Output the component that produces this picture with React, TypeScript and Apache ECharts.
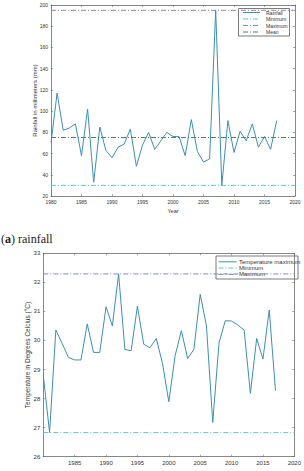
import React, { useEffect, useRef } from "react";
import * as echarts from "echarts";

// Observation years shared by both panels
const years = [
  1980, 1981, 1982, 1983, 1984, 1985, 1986, 1987, 1988, 1989,
  1990, 1991, 1992, 1993, 1994, 1995, 1996, 1997, 1998, 1999,
  2000, 2001, 2002, 2003, 2004, 2005, 2006, 2007, 2008, 2009,
  2010, 2011, 2012, 2013, 2014, 2015, 2016, 2017,
];

// Annual rainfall (mm)
const rainfall = [
  70, 117, 82, 84, 88, 58, 102, 33, 85, 63,
  56, 66, 69, 83, 48, 68, 80, 64, 72, 80,
  76, 76, 58, 92, 62, 52, 55, 195, 30, 91,
  61, 81, 72, 88, 66, 76, 64, 91,
];
const rainfallMinimum = 30;
const rainfallMaximum = 195;
const rainfallMean = 75.1;

// Annual maximum temperature (°C)
const temperatureMaximum = [
  28.8, 26.83, 30.36, 29.9, 29.42, 29.33, 29.33, 30.57, 29.59, 29.59,
  31.16, 30.5, 32.29, 29.69, 29.65, 31.18, 29.87, 29.75, 30.07, 29.21,
  27.89, 29.47, 30.34, 29.38, 29.69, 31.59, 30.5, 27.18, 29.92, 30.68,
  30.67, 30.53, 30.36, 28.18, 30.07, 29.36, 31.05, 28.27,
];
const temperatureMinimumLine = 26.83;
const temperatureMaximumLine = 32.29;

// Axis ranges
const yearRange = [1980, 2020];
const yearStep = 5;
const rainfallRange = [20, 200];
const rainfallStep = 20;
const temperatureRange = [26, 33];
const temperatureStep = 1;

// Legend entries
const rainfallLegend = ["Rainfall", "Minimum", "Maximum", "Mean"];
const temperatureLegend = ["Temperature maximum", "Minimum", "Maximum"];

const FONT = "Liberation Sans";
const AXIS = "#6a6a6a";
const TEXT = "#333";
const C_LINE = "#3d8fb3";
const C_MIN = "#5cc9d2";
const C_MAX = "#8585c9";
const C_MEAN = "#557866";
const DASH_DOT = [5, 2, 1, 2];

const LEGEND_STYLE: Record<string, { color: string; dash: boolean }> = {
  Rainfall: { color: C_LINE, dash: false },
  "Temperature maximum": { color: C_LINE, dash: false },
  Minimum: { color: C_MIN, dash: true },
  Maximum: { color: C_MAX, dash: true },
  Mean: { color: C_MEAN, dash: true },
};

const pairs = (xs: number[], ys: number[]) => xs.map((x, i) => [x, ys[i]]);
const flat = (v: number) => [
  [yearRange[0], v],
  [yearRange[1], v],
];
const plainYear = (v: number) => String(v);

const tickStyle = { show: true, inside: true, length: 2, lineStyle: { color: AXIS, width: 0.6 } };
const lineStyleAxis = { show: true, lineStyle: { color: AXIS, width: 0.8 } };

function mainX(gridIndex: number, fontSize: number, extra: any = {}, showMin = true) {
  return {
    type: "value",
    gridIndex,
    min: yearRange[0],
    max: yearRange[1],
    interval: yearStep,
    axisLine: lineStyleAxis,
    axisTick: tickStyle,
    axisLabel: { color: TEXT, fontSize, fontFamily: FONT, margin: 3, formatter: plainYear, showMinLabel: showMin },
    splitLine: { show: false },
    ...extra,
  };
}

function mirrorX(gridIndex: number) {
  return {
    type: "value",
    gridIndex,
    position: "top",
    min: yearRange[0],
    max: yearRange[1],
    interval: yearStep,
    axisLine: lineStyleAxis,
    axisTick: tickStyle,
    axisLabel: { show: false },
    splitLine: { show: false },
  };
}

function mainY(gridIndex: number, range: number[], step: number, fontSize: number, extra: any = {}) {
  return {
    type: "value",
    gridIndex,
    min: range[0],
    max: range[1],
    interval: step,
    axisLine: lineStyleAxis,
    axisTick: tickStyle,
    axisLabel: { color: TEXT, fontSize, fontFamily: FONT, margin: 3 },
    splitLine: { show: false },
    ...extra,
  };
}

function mirrorY(gridIndex: number, range: number[], step: number) {
  return {
    type: "value",
    gridIndex,
    position: "right",
    min: range[0],
    max: range[1],
    interval: step,
    axisLine: lineStyleAxis,
    axisTick: tickStyle,
    axisLabel: { show: false },
    splitLine: { show: false },
  };
}

function lineSeries(name: string, data: any[], axisIndex: number, z = 2) {
  const s = LEGEND_STYLE[name];
  return {
    type: "line",
    name,
    data,
    xAxisIndex: axisIndex,
    yAxisIndex: axisIndex,
    symbol: "none",
    z,
    lineStyle: { color: s.color, width: 1, type: s.dash ? DASH_DOT : "solid" },
    itemStyle: { color: s.color },
  };
}

// Boxed legend: sample line followed by its label, one entry per row
function legendBox(
  names: string[],
  box: { x: number; y: number; w: number; h: number },
  firstRow: number,
  rowStep: number,
  sample: [number, number],
  textX: number,
  fontSize: number
) {
  const children: any[] = [
    {
      type: "rect",
      shape: { x: box.x, y: box.y, width: box.w, height: box.h },
      style: { fill: "#ffffff", stroke: "#444", lineWidth: 0.7 },
    },
  ];
  names.forEach((name, i) => {
    const y = firstRow + i * rowStep;
    const s = LEGEND_STYLE[name];
    children.push({
      type: "line",
      shape: { x1: sample[0], y1: y, x2: sample[1], y2: y },
      style: { stroke: s.color, lineWidth: 1, lineDash: s.dash ? DASH_DOT : null },
    });
    children.push({
      type: "text",
      x: textX,
      y,
      style: {
        text: name,
        fill: TEXT,
        font: `${fontSize}px '${FONT}'`,
        verticalAlign: "middle",
        align: "left",
      },
    });
  });
  return { type: "group", z: 100, children };
}

export default function App() {
  const ref = useRef<HTMLDivElement>(null);

  useEffect(() => {
    if (!ref.current) return;
    const chart = echarts.init(ref.current, null, { renderer: "svg" });

    const option: any = {
      animation: false,
      backgroundColor: "#ffffff",
      textStyle: { fontFamily: FONT },
      grid: [
        { left: 51, top: 5, width: 244, height: 191 },
        { left: 43.3, top: 253.3, width: 257, height: 203.4 },
      ],
      xAxis: [
        mainX(0, 5, {
          name: "Year",
          nameLocation: "middle",
          nameGap: 12,
          nameMoveOverlap: false,
          nameTextStyle: { color: TEXT, fontSize: 5.5, fontFamily: FONT },
        }),
        mirrorX(0),
        mainX(1, 6, {}, false),
        mirrorX(1),
      ],
      yAxis: [
        mainY(0, rainfallRange, rainfallStep, 5, {
          name: "Rainfall in millimeters (mm)",
          nameLocation: "middle",
          nameRotate: 90,
          nameGap: 13,
          nameMoveOverlap: false,
          nameTextStyle: { color: TEXT, fontSize: 6, fontFamily: FONT },
        }),
        mirrorY(0, rainfallRange, rainfallStep),
        mainY(1, temperatureRange, temperatureStep, 6, {
          name: "Temperature in Degrees Celcius (°C)",
          nameLocation: "middle",
          nameRotate: 90,
          nameGap: 12.5,
          nameMoveOverlap: false,
          nameTextStyle: { color: TEXT, fontSize: 6.5, fontFamily: FONT },
        }),
        mirrorY(1, temperatureRange, temperatureStep),
      ],
      graphic: [
        {
          type: "text",
          left: 1,
          top: 233,
          style: {
            text: "({b|a}) rainfall",
            font: "12px 'Liberation Serif'",
            fill: "#222",
            rich: {
              b: { fontWeight: "bold", fontSize: 12, fontFamily: "Liberation Serif", fill: "#222" },
            },
          },
        },
        legendBox(rainfallLegend, { x: 238.5, y: 8.5, w: 51, h: 27.5 }, 12.5, 6.5, [243, 260], 266, 5),
        legendBox(temperatureLegend, { x: 216, y: 256, w: 82, h: 23 }, 261.8, 6.3, [218.5, 236.5], 239, 6),
      ],
      series: [
        lineSeries("Rainfall", pairs(years, rainfall), 0, 3),
        lineSeries("Minimum", flat(rainfallMinimum), 0),
        lineSeries("Maximum", flat(rainfallMaximum), 0),
        lineSeries("Mean", flat(rainfallMean), 0),
        lineSeries("Temperature maximum", pairs(years, temperatureMaximum), 2, 3),
        lineSeries("Minimum", flat(temperatureMinimumLine), 2),
        lineSeries("Maximum", flat(temperatureMaximumLine), 2),
      ],
    };

    chart.setOption(option);
    return () => chart.dispose();
  }, []);

  return (
    <div
      ref={ref}
      style={{ position: "absolute", left: 0, top: 0, width: 304, height: 471, background: "#fff" }}
    />
  );
}
